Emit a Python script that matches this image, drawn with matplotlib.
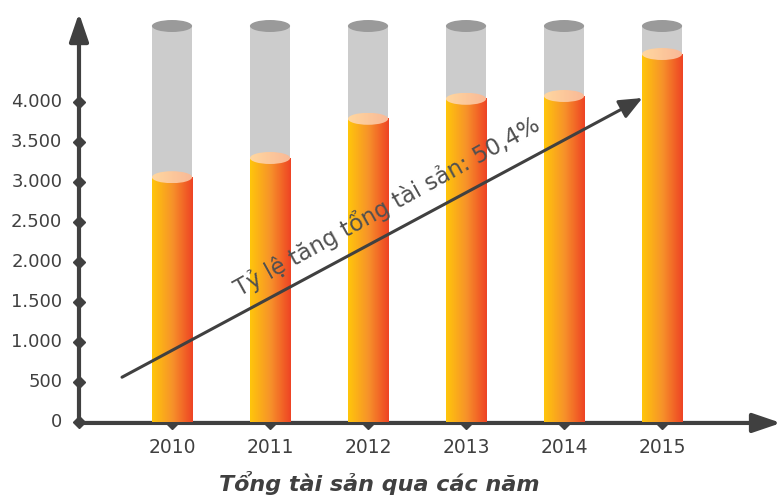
import numpy as np
import matplotlib
matplotlib.use("Agg")
import matplotlib.pyplot as plt
from matplotlib.colors import LinearSegmentedColormap
from matplotlib.patches import Ellipse, Rectangle

years = ["2010", "2011", "2012", "2013", "2014", "2015"]
assets = [3060, 3300, 3790, 4040, 4075, 4600]
capacity = 4950
yticks = [0, 500, 1000, 1500, 2000, 2500, 3000, 3500, 4000]
ytick_labels = ["0", "500", "1.000", "1.500", "2.000", "2.500", "3.000", "3.500", "4.000"]
growth_label = "Tỷ lệ tăng tổng tài sản: 50,4%"
title = "Tổng tài sản qua các năm"

ink = "#404040"
body_cmap = LinearSegmentedColormap.from_list("body", ["#FFC60B", "#F7922A", "#EE4324"])
cap_cmap = LinearSegmentedColormap.from_list("cap", ["#FFD7A0", "#F9B896"])
grad = np.linspace(0, 1, 256).reshape(1, -1)

fig = plt.figure(figsize=(7.82, 4.97), dpi=100)
ax = fig.add_axes([0, 0, 1, 1])
ax.axis("off")

w = 0.41
ell_h = 150
x0 = -0.949  # y axis position
head = "-|>,head_length=1.7,head_width=0.58"

# axes with arrow heads
ax.annotate("", xy=(x0, 5112), xytext=(x0, -12),
            arrowprops=dict(arrowstyle=head, color=ink, lw=3, shrinkA=0, shrinkB=0),
            zorder=2)
ax.annotate("", xy=(6.214, -12), xytext=(x0 - 0.02, -12),
            arrowprops=dict(arrowstyle=head, color=ink, lw=3, shrinkA=0, shrinkB=0),
            zorder=2)

# y ticks with diamond markers
ax.plot([x0] * len(yticks), yticks, linestyle="none", marker="D", ms=6.5,
        color=ink, zorder=3)
for t, lab in zip(yticks, ytick_labels):
    ax.text(x0 - 0.17, t, lab, ha="right", va="center", fontsize=13,
            color=ink, family="DejaVu Sans")

# x ticks
xs = np.arange(len(years))
ax.plot(xs, [-12] * len(xs), linestyle="none", marker="D", ms=6.5, color=ink, zorder=2)
for x, lab in zip(xs, years):
    ax.text(x, -320, lab, ha="center", va="center", fontsize=13.5, color=ink,
            family="DejaVu Sans")

for x, v in zip(xs, assets):
    # empty gray tube
    ax.add_patch(Rectangle((x - w / 2, 0), w, capacity, facecolor="#CCCCCC",
                           edgecolor="none", zorder=4))
    ax.add_patch(Ellipse((x, capacity), w, ell_h, facecolor="#9A9A9A",
                         edgecolor="none", zorder=4))
    # filled part
    ax.imshow(grad, cmap=body_cmap, aspect="auto", extent=(x - w / 2, x + w / 2, 0, v),
              zorder=5, interpolation="bilinear")
    cap = Ellipse((x, v), w, ell_h, facecolor="none", edgecolor="none", zorder=6)
    ax.add_patch(cap)
    im = ax.imshow(grad, cmap=cap_cmap, aspect="auto",
                   extent=(x - w / 2, x + w / 2, v - ell_h / 2, v + ell_h / 2),
                   zorder=6, interpolation="bilinear")
    im.set_clip_path(cap)

ax.set_xlim(-1.755, 6.224)
ax.set_ylim(-937.5, 5275)

# growth arrow
ax.annotate("", xy=(4.80, 4050), xytext=(-0.51, 560),
            arrowprops=dict(arrowstyle="-|>,head_length=1.4,head_width=0.6",
                            color=ink, lw=2.2, shrinkA=0, shrinkB=0), zorder=8)
ax.text(2.19, 2700, growth_label, rotation=29, ha="center", va="center",
        fontsize=16.5, color="#505050", family="DejaVu Sans", zorder=8)

ax.text(2.11, -760, title, ha="center", va="center", fontsize=16, color=ink,
        family="DejaVu Sans", fontweight="bold", fontstyle="italic")

fig.savefig("out.png", dpi=100)
